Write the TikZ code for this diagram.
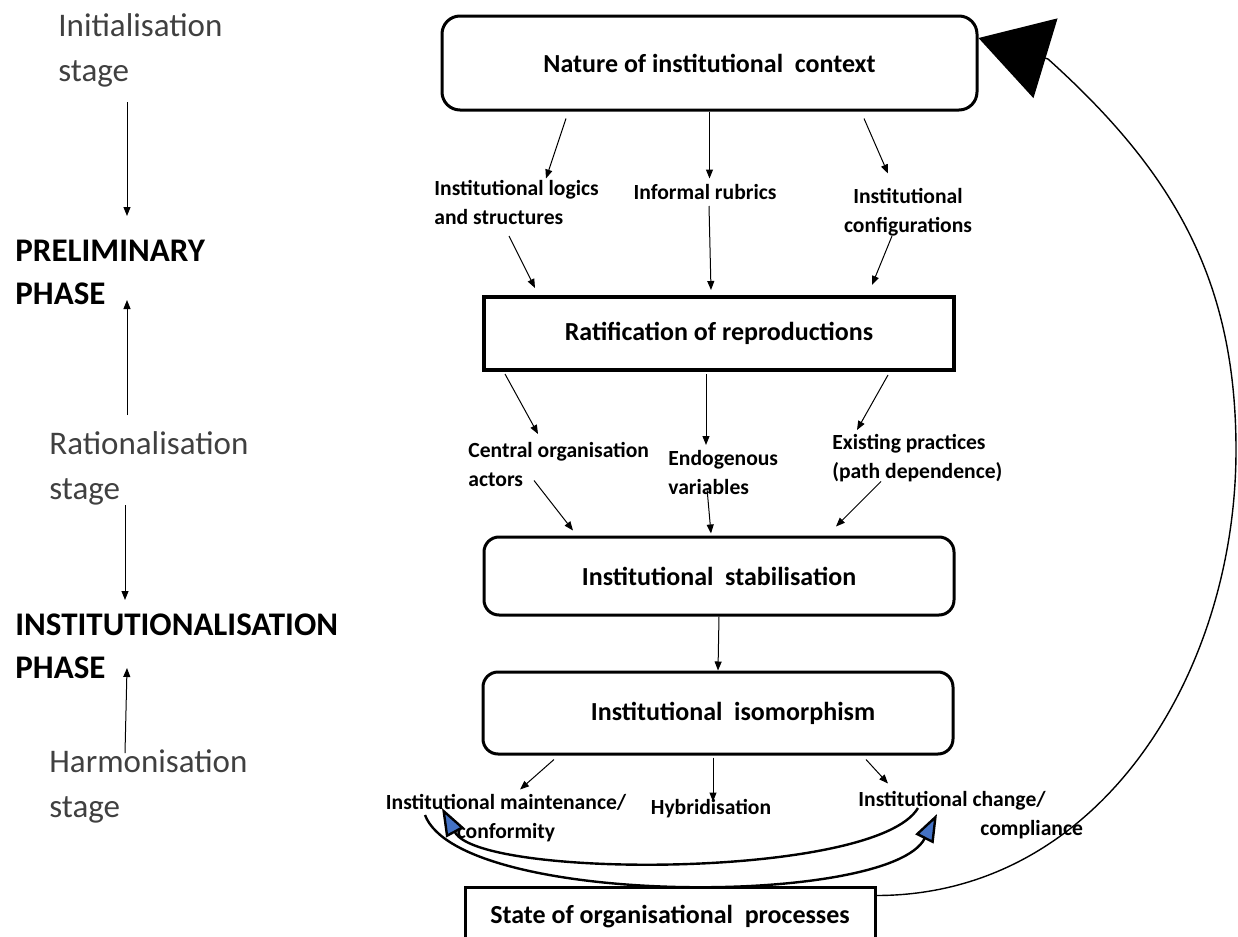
\documentclass[tikz,border=0pt]{standalone}
\usepackage{fontspec}
\setmainfont{Carlito}
\usetikzlibrary{arrows.meta,calc}
\definecolor{gristexte}{RGB}{64,64,64}
\definecolor{bleufleche}{RGB}{68,114,196}

\begin{document}
\begin{tikzpicture}[x=0.5pt,y=0.5pt,
	etape/.style={anchor=west,align=left,inner sep=0pt,text=gristexte,font=\fontsize{16.5}{22.5}\selectfont},
	phase/.style={anchor=west,align=left,inner sep=0pt,font=\bfseries\fontsize{16.5}{21.5}\selectfont},
	boite/.style={draw,line width=1.5pt,minimum width=235pt,font=\bfseries\fontsize{13}{15}\selectfont},
	etiquette/.style={inner sep=0pt,font=\bfseries\fontsize{10.8}{14.5}\selectfont},
	fleche/.style={line width=0.5pt,-{Triangle[length=4.5pt,width=3.5pt]}},
	courbe/.style={line width=1.2pt,-{Triangle[length=14pt,width=10pt,fill=bleufleche]}}]
	\useasboundingbox (0,0) rectangle (1238,-937);
%	Colonne des phases :
	\node[etape] (init) at (58,-50) {Initialisation\\stage};
	\node[phase] (prelim) at (15,-272) {PRELIMINARY\\PHASE};
	\node[etape] (ratio) at (49,-468) {Rationalisation\\stage};
	\node[phase] (instit) at (15,-646) {INSTITUTIONALISATION\\PHASE};
	\node[etape] (harmo) at (49,-786) {Harmonisation\\stage};
	\coordinate (g1) at (127,-102); \coordinate (g2) at (127,-216);
	\coordinate (g3) at (127,-415); \coordinate (g4) at (127,-300);
	\coordinate (g5) at (125,-505); \coordinate (g6) at (125,-600);
	\coordinate (g7) at (125,-753); \coordinate (g8) at (127,-668);
	\draw[fleche] (g1) -- (g2);
	\draw[fleche] (g3) -- (g4);
	\draw[fleche] (g5) -- (g6);
	\draw[fleche] (g7) -- (g8);
%	Les boites :
	\node[boite,rounded corners=9pt,minimum width=267.5pt,minimum height=47pt] (contexte) at (709.5,-63) {Nature of institutional\ \ context};
	\node[boite,line width=2pt,minimum height=36.5pt] (ratif) at (719,-333.5) {Ratification of reproductions};
	\node[boite,rounded corners=7.5pt,minimum height=39pt] (stab) at (719,-576) {Institutional\ \ stabilisation};
	\node[boite,rounded corners=7.5pt,minimum height=41pt] (iso) at (718,-713) {\hspace{15pt}Institutional\ \ isomorphism};
	\node[boite,minimum width=205pt,minimum height=30pt] (etat) at (670,-917) {State of organisational\ \ processes};
%	Les etiquettes :
	\node[etiquette,anchor=west,align=left] (logiques) at (434,-202) {Institutional logics\\and structures};
	\node[etiquette] (rubriques) at (705,-192) {Informal rubrics};
	\node[etiquette,align=center] (configs) at (908,-212) {Institutional\\configurations};
	\node[etiquette,anchor=west,align=left] (acteurs) at (468,-464) {Central organisation\\actors};
	\node[etiquette,anchor=west,align=left] (endogenes) at (668,-472) {Endogenous\\variables};
	\node[etiquette,anchor=west,align=left] (pratiques) at (832,-458) {Existing practices\\(path dependence)};
	\node[etiquette,align=center] (maintien) at (506,-818) {Institutional maintenance/\\conformity};
	\node[etiquette] (hybride) at (711,-809) {Hybridisation};
	\node[etiquette,anchor=west,align=left] (changement) at (858,-815) {Institutional change/\\\hspace*{61pt}compliance};
%	Les fleches :
	\draw[fleche] ($(contexte.south)+(-143.5,-7)$) -- ($(contexte.south)+(-163.5,-67)$);
	\draw[fleche] (contexte.south) -- ($(contexte.south)+(0,-67)$);
	\draw[fleche] ($(contexte.south)+(154.5,-7)$) -- ($(contexte.south)+(178.5,-62)$);
	\draw[fleche] ($(ratif.north)+(-210,59)$) -- ($(ratif.north)+(-184,7)$);
	\draw[fleche] ($(ratif.north)+(-10,89)$) -- ($(ratif.north)+(-8,5)$);
	\draw[fleche] ($(ratif.north)+(173,59)$) -- ($(ratif.north)+(153,10)$);
	\draw[fleche] ($(ratif.south)+(-214,-2)$) -- ($(ratif.south)+(-181,-62)$);
	\draw[fleche] ($(ratif.south)+(-13,-2)$) -- ($(ratif.south)+(-13,-73)$);
	\draw[fleche] ($(ratif.south)+(169,-3)$) -- ($(ratif.south)+(138,-58)$);
	\draw[fleche] ($(stab.north)+(-185,55)$) -- ($(stab.north)+(-146,5)$);
	\draw[fleche] ($(stab.north)+(-12,47)$) -- ($(stab.north)+(-8,2)$);
	\draw[fleche] ($(stab.north)+(162,54)$) -- ($(stab.north)+(117,9)$);
	\draw[fleche] (stab.south) -- (iso.north);
	\draw[fleche] ($(iso.south)+(-164,-4)$) -- ($(iso.south)+(-198,-34)$);
	\draw[fleche] ($(iso.south)+(-5,-2)$) -- ($(iso.south)+(-5,-46)$);
	\draw[fleche] ($(iso.south)+(148,-4)$) -- ($(iso.south)+(170,-28)$);
%	Les deux courbes du bas :
	\draw[courbe] ($(maintien)+(-81,3)$) .. controls (460,-907) and (890,-907) .. ($(changement.west)+(79,1)$);
	\draw[courbe] ($(changement.west)+(60,7)$) .. controls (876,-879) and (480,-879) .. ($(maintien)+(-64,10)$);
%	Retour vers le contexte :
	\draw[line width=0.7pt,-{Triangle[length=35pt,width=41.5pt]}] ([yshift=-5pt]etat.north east) to[out=0,in=-90] (1236,-450) to[out=90,in=-42] (1048,-59) -- ([yshift=12.5pt]contexte.east);
\end{tikzpicture}
\end{document}
